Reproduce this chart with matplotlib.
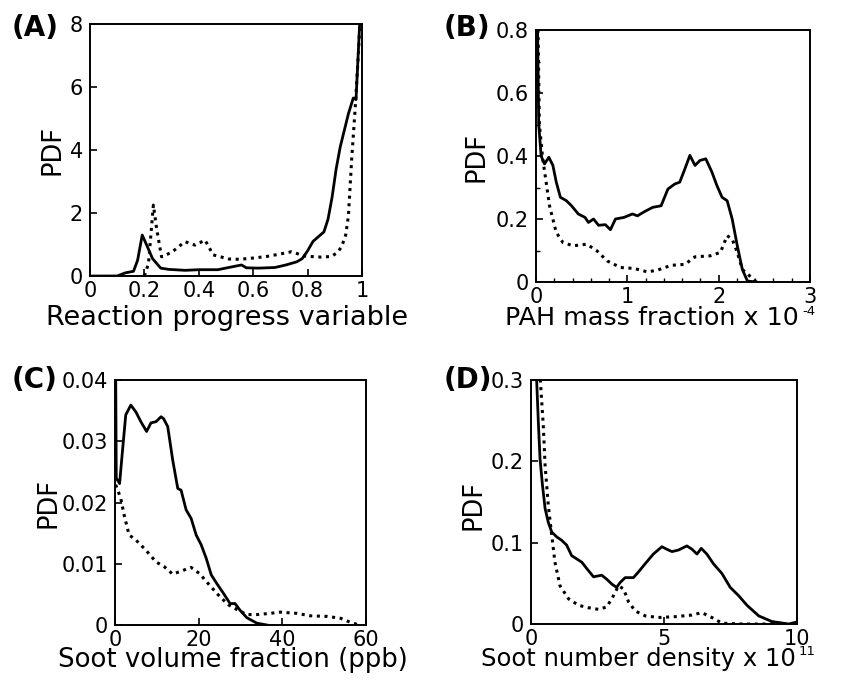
import matplotlib
matplotlib.use("Agg")
import matplotlib.pyplot as plt
from matplotlib.ticker import MultipleLocator

plt.rcParams["font.family"] = ["DejaVu Sans"]

# ---- data ----
# (A) reaction progress variable
a_solid_x = [0.0, 0.10, 0.13, 0.16, 0.175, 0.192, 0.21, 0.23, 0.26, 0.29, 0.35, 0.40, 0.47, 0.51,
             0.557, 0.575, 0.62, 0.68, 0.72, 0.76, 0.78, 0.80, 0.82, 0.86, 0.875, 0.89, 0.905,
             0.92, 0.95, 0.968, 0.978, 0.993]
a_solid_y = [0.0, 0.0, 0.1, 0.15, 0.5, 1.30, 0.95, 0.55, 0.25, 0.21, 0.18, 0.20, 0.20, 0.27,
             0.35, 0.26, 0.25, 0.27, 0.35, 0.45, 0.55, 0.8, 1.1, 1.4, 1.8, 2.5, 3.4,
             4.1, 5.15, 5.65, 5.6, 8.3]
a_dot_x = [0.20, 0.215, 0.233, 0.245, 0.263, 0.30, 0.349, 0.386, 0.423, 0.453, 0.51, 0.55, 0.60,
           0.65, 0.70, 0.741, 0.79, 0.85, 0.888, 0.91, 0.925, 0.94, 0.95, 0.962, 0.974, 0.987, 0.994]
a_dot_y = [0.0, 0.4, 2.25, 1.5, 0.61, 0.75, 1.09, 0.98, 1.14, 0.67, 0.54, 0.53, 0.57,
           0.62, 0.70, 0.77, 0.63, 0.60, 0.62, 0.75, 0.93, 1.3, 1.9, 3.7, 5.2, 7.1, 8.3]

# (B) PAH mass fraction x 1e-4
b_solid_x = [0.015, 0.03, 0.056, 0.093, 0.141, 0.185, 0.222, 0.267, 0.333, 0.389, 0.463, 0.537,
             0.574, 0.63, 0.685, 0.759, 0.815, 0.87, 0.963, 1.056, 1.111, 1.185, 1.278, 1.37,
             1.444, 1.519, 1.574, 1.63, 1.685, 1.741, 1.796, 1.859, 1.926, 1.981, 2.037, 2.093,
             2.148, 2.204, 2.259, 2.315, 2.41]
b_solid_y = [0.85, 0.50, 0.40, 0.375, 0.396, 0.37, 0.317, 0.269, 0.258, 0.242, 0.216, 0.205,
             0.189, 0.20, 0.18, 0.182, 0.166, 0.20, 0.205, 0.216, 0.21, 0.223, 0.237, 0.242,
             0.295, 0.311, 0.317, 0.359, 0.402, 0.37, 0.386, 0.391, 0.349, 0.306, 0.269, 0.258,
             0.20, 0.115, 0.04, 0.003, 0.0]
b_dot_x = [0.02, 0.037, 0.074, 0.111, 0.148, 0.222, 0.296, 0.407, 0.556, 0.667, 0.778, 0.926,
           1.074, 1.222, 1.333, 1.481, 1.63, 1.741, 1.907, 2.019, 2.093, 2.148, 2.204, 2.259,
           2.333, 2.41]
b_dot_y = [0.85, 0.50, 0.39, 0.317, 0.242, 0.157, 0.125, 0.115, 0.12, 0.099, 0.067, 0.046,
           0.043, 0.032, 0.038, 0.053, 0.056, 0.08, 0.083, 0.094, 0.147, 0.136, 0.094, 0.04,
           0.021, 0.0]

# (C) soot volume fraction (ppb)
c_solid_x = [0.16, 0.3, 1.1, 1.77, 2.57, 3.78, 4.98, 6.18, 7.55, 8.6, 9.8, 11.0, 11.6, 12.6,
             13.8, 15.0, 15.8, 17.0, 18.2, 19.4, 20.6, 21.8, 23.0, 24.3, 25.9, 27.5, 28.7,
             29.9, 31.5, 33.9, 36.3]
c_solid_y = [0.042, 0.024, 0.0231, 0.0283, 0.0343, 0.0359, 0.0348, 0.0332, 0.0316, 0.033,
             0.0332, 0.034, 0.0337, 0.0324, 0.0269, 0.0223, 0.022, 0.0188, 0.0174, 0.0147,
             0.0131, 0.0109, 0.0082, 0.0068, 0.0052, 0.0035, 0.0035, 0.0024, 0.0012, 0.0003, 0.0]
c_dot_x = [0.16, 1.37, 2.17, 3.37, 4.98, 7.4, 9.8, 11.8, 13.8, 15.4, 18.2, 20.2, 22.6, 25.1,
           27.1, 29.5, 31.5, 33.9, 37.1, 39.5, 43.5, 46.7, 50.8, 53.9, 56.4, 58.4]
c_dot_y = [0.0229, 0.0207, 0.018, 0.0147, 0.0139, 0.0122, 0.0103, 0.0095, 0.0083, 0.0087,
           0.0094, 0.0084, 0.0065, 0.0046, 0.0033, 0.0024, 0.0017, 0.0017, 0.0019, 0.0021,
           0.0019, 0.0015, 0.0014, 0.0011, 0.0004, 0.0]

# (D) soot number density x 1e11
d_solid_x = [0.2, 0.28, 0.34, 0.43, 0.53, 0.65, 0.78, 0.97, 1.15, 1.34, 1.53, 1.72, 1.91, 2.1,
             2.35, 2.66, 2.85, 3.04, 3.22, 3.35, 3.54, 3.85, 4.04, 4.29, 4.6, 4.92, 5.1, 5.3,
             5.55, 5.67, 5.86, 6.05, 6.24, 6.4, 6.61, 6.86, 7.18, 7.49, 7.8, 8.12, 8.56, 9.06,
             9.69, 9.94]
d_solid_y = [0.31, 0.245, 0.203, 0.171, 0.142, 0.125, 0.113, 0.107, 0.103, 0.097, 0.084, 0.080,
             0.076, 0.068, 0.058, 0.060, 0.055, 0.049, 0.045, 0.051, 0.057, 0.057, 0.064, 0.074,
             0.086, 0.095, 0.092, 0.089, 0.091, 0.093, 0.096, 0.092, 0.086, 0.093, 0.086, 0.074,
             0.062, 0.045, 0.035, 0.023, 0.010, 0.003, 0.0, 0.002]
d_dot_x = [0.33, 0.46, 0.53, 0.65, 0.78, 0.9, 1.09, 1.41, 1.79, 2.16, 2.54, 2.85, 3.07, 3.29,
           3.48, 3.67, 3.92, 4.29, 4.79, 5.42, 6.05, 6.42, 6.8, 7.18, 7.93, 9.18]
d_dot_y = [0.31, 0.245, 0.195, 0.146, 0.109, 0.076, 0.047, 0.031, 0.023, 0.020, 0.018, 0.021,
           0.033, 0.047, 0.043, 0.027, 0.016, 0.010, 0.008, 0.009, 0.011, 0.014, 0.008, 0.001,
           0.0, 0.0]

a_xticks = [0, 0.2, 0.4, 0.6, 0.8, 1]
a_xlabels = ["0", "0.2", "0.4", "0.6", "0.8", "1"]
a_yticks = [0, 2, 4, 6, 8]
b_xticks = [0, 1, 2, 3]
b_yticks = [0, 0.2, 0.4, 0.6, 0.8]
b_ylabels = ["0", "0.2", "0.4", "0.6", "0.8"]
c_xticks = [0, 20, 40, 60]
c_yticks = [0, 0.01, 0.02, 0.03, 0.04]
c_ylabels = ["0", "0.01", "0.02", "0.03", "0.04"]
d_xticks = [0, 5, 10]
d_yticks = [0, 0.1, 0.2, 0.3]
d_ylabels = ["0", "0.1", "0.2", "0.3"]

W, H = 846, 683
fig = plt.figure(figsize=(W / 100, H / 100), dpi=100)


def box(l, t, r, b):
    # pixel box -> figure fraction rect
    return [l / W, 1 - b / H, (r - l) / W, (b - t) / H]


def setup(ax, xlim, ylim, xt, xl, yt, yl):
    ax.set_xlim(*xlim)
    ax.set_ylim(*ylim)
    ax.set_xticks(xt)
    ax.set_xticklabels(xl)
    ax.set_yticks(yt)
    ax.set_yticklabels(yl)
    ax.tick_params(direction="in", length=5, width=1.2, labelsize=15, pad=5)
    ax.tick_params(axis="x", pad=3.5)
    ax.tick_params(which="minor", direction="in", length=3, width=1.0)
    for s in ax.spines.values():
        s.set_linewidth(1.4)


def curves(ax, sx, sy, dx, dy):
    ax.plot(sx, sy, color="black", lw=2.0, solid_joinstyle="round")
    ax.plot(dx, dy, color="black", lw=2.2, linestyle=(0, (1, 1.5)), dash_capstyle="butt")


axA = fig.add_axes(box(90, 24, 362, 276))
curves(axA, a_solid_x, a_solid_y, a_dot_x, a_dot_y)
setup(axA, (0, 1), (0, 8), a_xticks, a_xlabels, a_yticks, [str(v) for v in a_yticks])

axB = fig.add_axes(box(536, 30, 810, 282))
curves(axB, b_solid_x, b_solid_y, b_dot_x, b_dot_y)
setup(axB, (0, 3), (0, 0.8), b_xticks, [str(v) for v in b_xticks], b_yticks, b_ylabels)
axB.xaxis.set_minor_locator(MultipleLocator(0.2))
axB.yaxis.set_minor_locator(MultipleLocator(0.1))

axC = fig.add_axes(box(115, 380, 366, 625))
curves(axC, c_solid_x, c_solid_y, c_dot_x, c_dot_y)
setup(axC, (0, 60), (0, 0.04), c_xticks, [str(v) for v in c_xticks], c_yticks, c_ylabels)

axD = fig.add_axes(box(531, 380, 797, 624))
curves(axD, d_solid_x, d_solid_y, d_dot_x, d_dot_y)
setup(axD, (0, 10), (0, 0.3), d_xticks, [str(v) for v in d_xticks], d_yticks, d_ylabels)


def ftext(x, y, s, **kw):
    fig.text(x / W, 1 - y / H, s, **kw)


# panel letters
for x, y, s in [(12, 28, "(A)"), (444, 28, "(B)"), (12, 380, "(C)"), (444, 380, "(D)")]:
    ftext(x, y, s, fontsize=20, fontweight="bold", ha="left", va="center")

# y labels
for x, y in [(52, 150), (476, 157), (48, 503), (473, 505)]:
    ftext(x, y, "PDF", fontsize=18.5, rotation=90, ha="center", va="center")

# x labels (exponents as small separate text, as in the original)
ftext(227, 325, "Reaction progress variable", fontsize=19.5, ha="center", va="baseline")
ftext(233, 667, "Soot volume fraction (ppb)", fontsize=18.7, ha="center", va="baseline")
ftext(799, 325, "PAH mass fraction x 10", fontsize=18.3, ha="right", va="baseline")
ftext(802, 315, "-4", fontsize=9.5, ha="left", va="baseline")
ftext(796, 666, "Soot number density x 10", fontsize=17.5, ha="right", va="baseline")
ftext(799, 655, "11", fontsize=9.5, ha="left", va="baseline")

fig.savefig("out.png", dpi=100)
